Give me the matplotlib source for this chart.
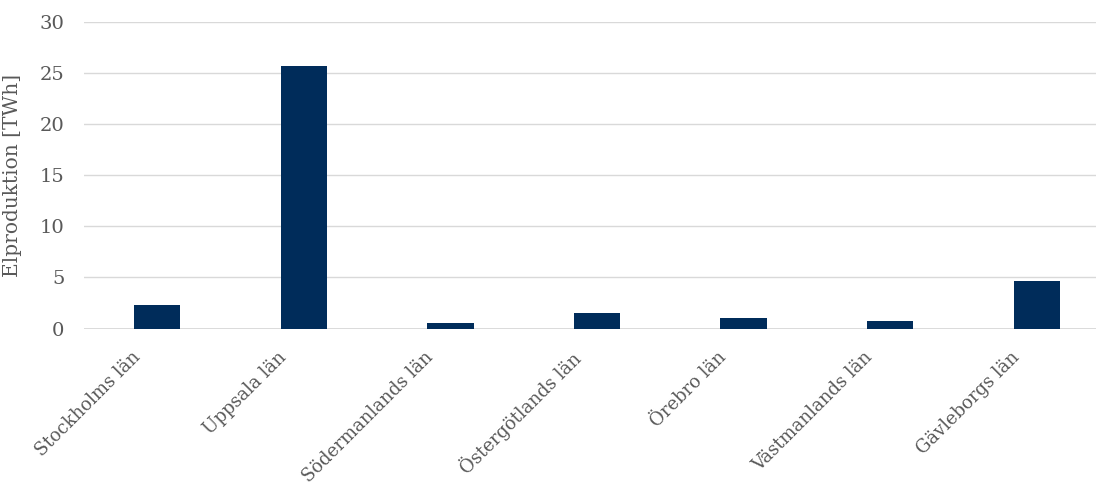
import matplotlib
matplotlib.use("Agg")
from matplotlib import pyplot as plt

lan = ["Stockholms län", "Uppsala län", "Södermanlands län", "Östergötlands län",
       "Örebro län", "Västmanlands län", "Gävleborgs län"]
elproduktion = [2.3, 25.7, 0.55, 1.55, 1.05, 0.75, 4.65]
yticks = [0, 5, 10, 15, 20, 25, 30]

plt.rcParams['font.family'] = ['DejaVu Serif']
grey = '#595959'

fig = plt.figure(figsize=(10.96, 4.88), dpi=100)
# axes runs a bit past the right edge, like the cropped original
ax = fig.add_axes([84/1096, 1-328.5/488, (1110-84)/1096, (328.5-22)/488])

x = list(range(len(lan)))
ax.bar(x, elproduktion, width=0.315, color='#002c5a', zorder=3)

ax.set_ylim(0, 30)
ax.set_xlim(-0.5, len(lan)-0.5)
ax.set_yticks(yticks)
ax.set_yticklabels([str(t) for t in yticks], color=grey, fontsize=14)
ax.set_xticks(x)
ax.set_xticklabels([])

# rotated category labels, placed a bit left of each tick like the original
for xi, name in zip(x, lan):
    ax.annotate(name, xy=(xi, 0), xycoords=('data', 'axes fraction'),
                xytext=(-19, -14), textcoords='offset points',
                rotation=45, ha='right', va='top', rotation_mode='anchor',
                color=grey, fontsize=13, annotation_clip=False)

ax.tick_params(axis='both', length=0)
ax.tick_params(axis='y', pad=14)
ax.yaxis.grid(True, color='#d9d9d9', linewidth=1, zorder=0)
for s in ax.spines.values():
    s.set_visible(False)
ax.axhline(0, color='#d9d9d9', linewidth=1.3, zorder=2)
ax.set_ylabel('Elproduktion [TWh]', color=grey, fontsize=14.5)
ax.yaxis.set_label_coords(-62/1026, 0.5)

fig.savefig('out.png', dpi=100)
